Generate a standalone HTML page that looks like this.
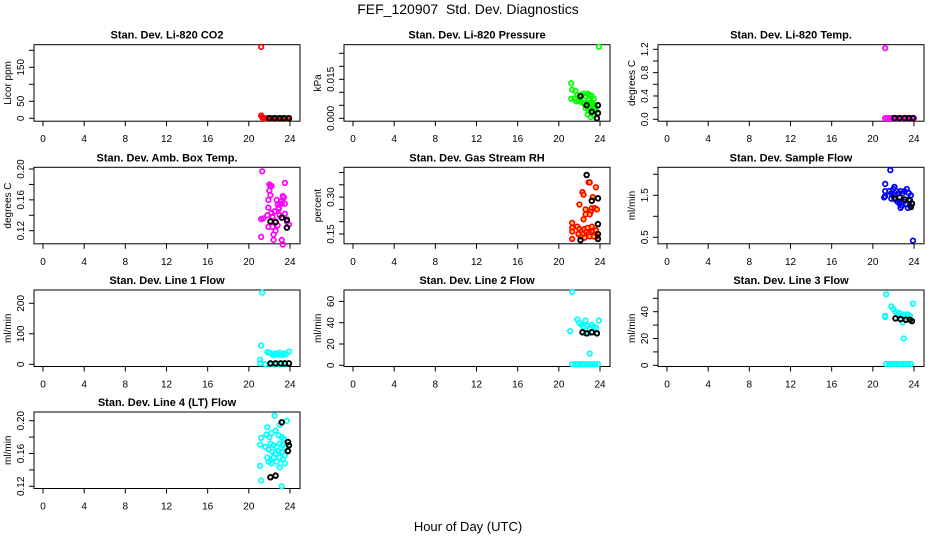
<!DOCTYPE html>
<html><head><meta charset="utf-8"><style>
html,body{margin:0;padding:0;background:#fff;}
svg{display:block;font-family:"Liberation Sans",sans-serif;}
</style></head><body>
<svg id="chart" width="936" height="540" viewBox="0 0 936 540">
<text x="468" y="14" text-anchor="middle" font-size="14" xml:space="preserve">FEF_120907  Std. Dev. Diagnostics</text>
<text x="468" y="531" text-anchor="middle" font-size="13">Hour of Day (UTC)</text>
</svg>
<script>
const xTicks=[0,4,8,12,16,20,24];
const xTickLabels=['0','4','8','12','16','20','24'];

const co2Hours=[21.2,21.2,21.3,21.4,21.5,21.7,21.9,22.1,22.3,22.5,22.7,22.9,23.1,23.3,23.5,23.7,23.9];
const co2Vals=[210,8,3,0,0,0,0,0,0,0,0,0,0,0,0,0,0];
const co2MeanHours=[22.0,22.5,23.0,23.4,23.9];
const co2MeanVals=[0,0,0,0,0];
const co2Ticks=[0,50,100,150,200];
const co2TickLabels=['0','50','','150',''];

const presHours=[23.9,21.2,21.3,21.6,21.8,21.2,21.5,21.9,22.0,22.2,22.4,22.6,22.8,23.0,23.2,23.4,21.7,22.1,22.3,22.5,22.7,22.9,23.1,23.3,23.5,22.6,22.9,23.0,23.2,23.4,23.3,22.8,23.1,23.6];
const presVals=[0.0275,0.0135,0.011,0.0105,0.009,0.0075,0.0075,0.007,0.0085,0.009,0.0095,0.0085,0.0095,0.009,0.0085,0.0075,0.0065,0.0065,0.006,0.0055,0.006,0.007,0.006,0.0055,0.005,0.004,0.003,0.004,0.005,0.003,0.0015,0.0015,0.0005,0.003];
const presMeanHours=[22.1,22.7,23.2,23.8,23.8,23.7];
const presMeanVals=[0.0085,0.005,0.0025,0.005,0.002,0.0];
const presTicks=[0,0.005,0.01,0.015,0.02,0.025];
const presTickLabels=['0.000','','','0.015','',''];

const tempHours=[21.2,21.2,21.4,21.6,21.8,22.0,22.2,22.4,22.6,22.8,23.0,23.2,23.4,23.6,23.8,24.0];
const tempVals=[1.22,0.02,0.02,0.02,0.02,0.02,0.02,0.02,0.02,0.02,0.02,0.02,0.02,0.02,0.02,0.02];
const tempMeanHours=[22.1,22.6,23.1,23.5,23.9];
const tempMeanVals=[0.02,0.02,0.02,0.02,0.02];
const tempTicks=[0,0.2,0.4,0.6,0.8,1.0,1.2];
const tempTickLabels=['0.0','','0.4','','0.8','','1.2'];

const boxHours=[21.3,21.2,21.2,21.4,21.8,21.9,21.9,21.9,22.0,22.1,22.0,22.2,22.1,22.2,22.3,22.4,22.4,22.5,22.6,22.7,22.8,22.9,22.9,23.0,23.1,23.2,23.3,23.4,23.5,23.5,23.5,23.2,23.3,23.7,23.9,22.3,22.8,23.0,22.6];
const boxVals=[0.197,0.135,0.112,0.136,0.140,0.160,0.150,0.125,0.180,0.178,0.172,0.178,0.166,0.143,0.138,0.108,0.115,0.145,0.132,0.160,0.154,0.150,0.148,0.155,0.158,0.155,0.165,0.163,0.155,0.182,0.142,0.108,0.102,0.132,0.128,0.125,0.127,0.140,0.120];
const boxMeanHours=[22.1,22.6,23.2,23.7,23.7];
const boxMeanVals=[0.132,0.131,0.137,0.134,0.124];
const boxTicks=[0.12,0.14,0.16,0.18,0.20];
const boxTickLabels=['0.12','','0.16','','0.20'];

const rhHours=[22.9,23.0,23.6,22.3,22.4,23.3,22.0,23.2,23.5,23.7,22.6,23.1,23.0,22.6,22.4,21.3,21.3,21.3,21.3,21.8,22.0,22.2,22.3,22.5,22.7,22.9,23.1,23.3,23.5,23.7,22.1,22.5,23.0,23.4,21.9,22.8,23.2,23.6];
const rhVals=[0.36,0.36,0.34,0.32,0.31,0.30,0.27,0.255,0.255,0.25,0.25,0.24,0.23,0.23,0.21,0.195,0.175,0.16,0.13,0.18,0.17,0.16,0.15,0.17,0.16,0.15,0.17,0.16,0.15,0.14,0.14,0.135,0.14,0.14,0.15,0.175,0.18,0.165];
const rhMeanHours=[22.7,23.2,23.8,23.8,23.8,23.8,22.1];
const rhMeanVals=[0.39,0.285,0.295,0.19,0.15,0.13,0.125];
const rhTicks=[0.15,0.20,0.25,0.30,0.35,0.40];
const rhTickLabels=['0.15','','','0.30','',''];

const flowHours=[21.7,21.2,21.2,21.1,21.2,21.6,21.8,22.0,22.1,22.3,22.5,22.7,22.9,23.1,23.3,23.5,21.8,22.0,22.2,22.4,22.6,22.8,23.0,23.2,23.4,23.6,22.7,23.5,23.7,23.9];
const flowVals=[2.1,1.77,1.6,1.45,1.48,1.6,1.55,1.65,1.7,1.6,1.55,1.6,1.55,1.6,1.65,1.55,1.42,1.5,1.4,1.35,1.3,1.25,1.35,1.3,1.2,1.25,1.2,1.4,1.5,0.42];
const flowMeanHours=[22.1,22.6,23.1,23.6,23.8,23.7];
const flowMeanVals=[1.43,1.45,1.4,1.38,1.3,1.22];
const flowTicks=[0.5,1.0,1.5,2.0];
const flowTickLabels=['0.5','','1.5',''];

const l1Hours=[21.3,21.2,21.1,21.1,21.6,21.8,22.0,22.2,22.4,22.6,22.8,23.0,23.2,23.4,23.6,23.9,22.1,22.5,23.0,23.5];
const l1Vals=[235,62,15,3,0,40,38,35,30,35,32,38,30,35,33,42,0,0,0,0];
const l1MeanHours=[22.1,22.6,23.1,23.5,23.9];
const l1MeanVals=[3,3,3,3,3];
const l1Ticks=[0,100,200];
const l1TickLabels=['0','100','200'];

const l2Hours=[21.3,21.1,21.3,21.6,21.8,22.0,22.3,22.6,22.9,23.2,23.5,23.8,23.0,21.8,22.0,22.2,22.4,22.6,22.8,23.0,23.2,23.4,23.6,23.9,22.9];
const l2Vals=[69,32,1,1,1,1,1,1,1,1,1,1,11,43,40,38,36,42,37,35,38,36,35,42,30];
const l2MeanHours=[22.3,22.7,23.2,23.7];
const l2MeanVals=[31,30,31,30];
const l2Ticks=[0,20,40,60];
const l2TickLabels=['0','20','40','60'];

const l3Hours=[21.3,21.2,21.2,21.3,21.6,21.9,22.2,22.5,22.8,23.1,23.4,23.7,23.0,21.8,22.0,22.2,22.4,22.6,22.8,23.0,23.2,23.4,23.6,23.9,22.9];
const l3Vals=[53,37,36,1,1,1,1,1,1,1,1,1,20,44,42,40,38,39,37,38,36,38,37,46,32];
const l3MeanHours=[22.2,22.7,23.2,23.6,23.8];
const l3MeanVals=[35,34.5,34,34,33];
const l3Ticks=[0,10,20,30,40,50];
const l3TickLabels=['0','','20','','40',''];

const l4Hours=[22.5,23.7,23.0,21.8,22.6,22.2,21.7,21.2,22.0,22.9,23.2,23.4,21.1,21.6,22.1,22.4,22.7,23.0,23.3,23.6,23.9,21.9,22.3,22.6,22.9,23.2,23.5,21.8,22.1,22.4,22.7,23.0,23.3,21.9,22.2,23.5,23.0,21.1,21.2,23.2];
const l4Vals=[0.206,0.20,0.195,0.192,0.188,0.185,0.183,0.179,0.180,0.182,0.180,0.178,0.171,0.168,0.172,0.170,0.168,0.172,0.170,0.168,0.17,0.165,0.162,0.160,0.163,0.162,0.158,0.155,0.152,0.155,0.150,0.155,0.153,0.150,0.148,0.148,0.143,0.145,0.127,0.120];
const l4MeanHours=[23.2,23.8,23.9,23.8,22.1,22.6];
const l4MeanVals=[0.198,0.174,0.170,0.163,0.131,0.133];
const l4Ticks=[0.12,0.14,0.16,0.18,0.20];
const l4TickLabels=['0.12','','0.16','','0.20'];

const NS='http://www.w3.org/2000/svg';
const svg=document.getElementById('chart');
const colLeft=[34,344,658], rowTop=[44.7,167.3,290,412], boxW=266, boxH=76.5;
function mk(tag,attrs,parent){const e=document.createElementNS(NS,tag);for(const k in attrs)e.setAttribute(k,attrs[k]);(parent||svg).appendChild(e);return e;}

const panels=[
 {key:'co2',title:'Stan. Dev. Li-820 CO2',ylab:'Licor ppm',c:0,r:0,cal:[0,73.6,150,22.6],h:co2Hours,v:co2Vals,mh:co2MeanHours,mv:co2MeanVals,t:co2Ticks,tl:co2TickLabels,col:'#ff0000'},
 {key:'pressure',title:'Stan. Dev. Li-820 Pressure',ylab:'kPa',c:1,r:0,cal:[0,73.6,0.015,34.6],h:presHours,v:presVals,mh:presMeanHours,mv:presMeanVals,t:presTicks,tl:presTickLabels,col:'#00ff00'},
 {key:'temp',title:'Stan. Dev. Li-820 Temp.',ylab:'degrees C',c:2,r:0,cal:[0,74.6,1.2,4.6],h:tempHours,v:tempVals,mh:tempMeanHours,mv:tempMeanVals,t:tempTicks,tl:tempTickLabels,col:'#ff00ff'},
 {key:'box-temp',title:'Stan. Dev. Amb. Box Temp.',ylab:'degrees C',c:0,r:1,cal:[0.12,63.4,0.20,1.7],h:boxHours,v:boxVals,mh:boxMeanHours,mv:boxMeanVals,t:boxTicks,tl:boxTickLabels,col:'#ff00ff'},
 {key:'rh',title:'Stan. Dev. Gas Stream RH',ylab:'percent',c:1,r:1,cal:[0.15,66.7,0.30,29.8],h:rhHours,v:rhVals,mh:rhMeanHours,mv:rhMeanVals,t:rhTicks,tl:rhTickLabels,col:'#ff0000',fill2:'#ffd700'},
 {key:'sample-flow',title:'Stan. Dev. Sample Flow',ylab:'ml/min',c:2,r:1,cal:[0.5,70,1.5,28],h:flowHours,v:flowVals,mh:flowMeanHours,mv:flowMeanVals,t:flowTicks,tl:flowTickLabels,col:'#0000ff'},
 {key:'line1',title:'Stan. Dev. Line 1 Flow',ylab:'ml/min',c:0,r:2,cal:[0,74.3,200,13.3],h:l1Hours,v:l1Vals,mh:l1MeanHours,mv:l1MeanVals,t:l1Ticks,tl:l1TickLabels,col:'#00ffff'},
 {key:'line2',title:'Stan. Dev. Line 2 Flow',ylab:'ml/min',c:1,r:2,cal:[0,75.3,60,11.4],h:l2Hours,v:l2Vals,mh:l2MeanHours,mv:l2MeanVals,t:l2Ticks,tl:l2TickLabels,col:'#00ffff'},
 {key:'line3',title:'Stan. Dev. Line 3 Flow',ylab:'ml/min',c:2,r:2,cal:[0,75.3,40,21.7],h:l3Hours,v:l3Vals,mh:l3MeanHours,mv:l3MeanVals,t:l3Ticks,tl:l3TickLabels,col:'#00ffff'},
 {key:'line4',title:'Stan. Dev. Line 4 (LT) Flow',ylab:'ml/min',c:0,r:3,cal:[0.12,74.3,0.20,8.7],h:l4Hours,v:l4Vals,mh:l4MeanHours,mv:l4MeanVals,t:l4Ticks,tl:l4TickLabels,col:'#00ffff'}
];

panels.forEach(p=>{
 const L=colLeft[p.c], T=rowTop[p.r];
 const g=mk('g',{});
 
 
 const xs=h=>L+9+h*247/24;
 const [v0,p0,v1,p1]=p.cal;
 const ys=v=>T+p0+(v-v0)*(p1-p0)/(v1-v0);
 const tt=mk('text',{x:L+boxW/2,y:T-6,'text-anchor':'middle','font-size':11,'font-weight':'bold'},g);
 tt.textContent=p.title;
 
 
 const bx=mk('rect',{x:L,y:T,width:boxW,height:boxH,fill:'none',stroke:'#000','stroke-width':1},g);
 
 
 xTicks.forEach((t,i)=>{
  const x=xs(t);
  mk('line',{x1:x,x2:x,y1:T+boxH,y2:T+boxH+5,stroke:'#000'},g);
  const tx=mk('text',{x:x,y:T+boxH+21,'text-anchor':'middle','font-size':10},g);
  tx.textContent=xTickLabels[i];
  
  
 });
 p.t.forEach((t,i)=>{
  const y=ys(t);
  mk('line',{x1:L-5,x2:L,y1:y,y2:y,stroke:'#000'},g);
  if(p.tl[i]){
   const tx=mk('text',{x:0,y:0,'text-anchor':'middle','font-size':10,transform:`translate(${L-10},${y}) rotate(-90)`},g);
   tx.textContent=p.tl[i];
   
   
  }
 });
 const yl=mk('text',{x:0,y:0,'text-anchor':'middle','font-size':10,transform:`translate(${L-23},${T+boxH/2}) rotate(-90)`},g);
 yl.textContent=p.ylab;
 
 
 p.h.forEach((h,i)=>{
  const c=mk('circle',{cx:xs(h),cy:ys(p.v[i]),r:2.3,fill:'none',stroke:p.col,'stroke-width':1.7},g);
  
  
  if(p.fill2){mk('circle',{cx:xs(h),cy:ys(p.v[i]),r:1.3,fill:p.fill2},g);}
 });
 p.mh.forEach((h,i)=>{
  const c=mk('circle',{cx:xs(h),cy:ys(p.mv[i]),r:2.3,fill:'none',stroke:'#000','stroke-width':1.9},g);
  
  
 });
});
</script>
</body></html>
